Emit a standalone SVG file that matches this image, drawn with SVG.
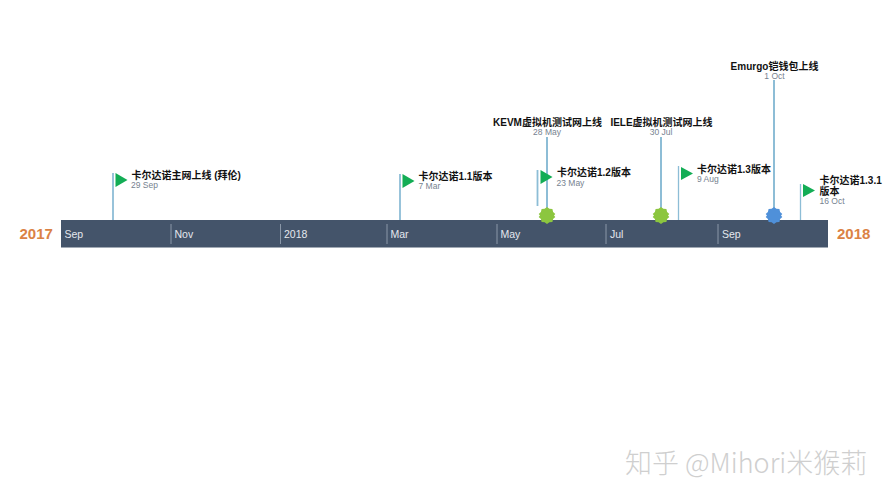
<svg xmlns="http://www.w3.org/2000/svg" width="889" height="500" viewBox="0 0 889 500">
<style>
text{font-family:"Liberation Sans","Noto Sans CJK SC",sans-serif}
.t{font-size:10px;font-weight:700;fill:#111}
.d{font-size:8.5px;fill:#76828f}
.m{font-size:10.5px;fill:#e4e8ee}
.y{font-size:15px;font-weight:700;fill:#db8245}
.l{stroke:#8dbdd6;fill:none}
.f{fill:#13ad55}
.s{stroke:#8a97a8;stroke-width:1}
</style>
<defs>
<polygon id="burst" points="0,-8.500 2.400,-6.800 5.400,-6.600 6.100,-3.400 8.300,-1.600 7,0 8.300,1.600 6.100,3.400 5.400,6.600 2.400,6.800 0,8.500 -2.400,6.800 -5.400,6.600 -6.100,3.400 -8.300,1.600 -7,0 -8.300,-1.600 -6.100,-3.400 -5.400,-6.600 -2.400,-6.800"/>
</defs>
<rect width="889" height="500" fill="#fff"/>
<g id="bar">
<rect x="61" y="220" width="767" height="27.5" fill="#44546a"/>
<line class="s" x1="171" y1="224" x2="171" y2="244"/>
<line class="s" x1="280.500" y1="224" x2="280.500" y2="244"/>
<line class="s" x1="387" y1="224" x2="387" y2="244"/>
<line class="s" x1="497" y1="224" x2="497" y2="244"/>
<line class="s" x1="606" y1="224" x2="606" y2="244"/>
<line class="s" x1="718" y1="224" x2="718" y2="244"/>
<text class="m" x="64.500" y="238">Sep</text>
<text class="m" x="174.500" y="238">Nov</text>
<text class="m" x="284" y="238">2018</text>
<text class="m" x="390.500" y="238">Mar</text>
<text class="m" x="500.500" y="238">May</text>
<text class="m" x="610" y="238">Jul</text>
<text class="m" x="722" y="238">Sep</text>
</g>
<g id="year-2017"><text class="y" x="19.500" y="239">2017</text></g>
<g id="year-2018"><text class="y" x="837" y="239">2018</text></g>
<g id="connectors">
<line class="l" stroke-width="1.800" x1="113" y1="173" x2="113" y2="220"/>
<line class="l" stroke-width="1.800" x1="400" y1="174" x2="400" y2="220"/>
<line class="l" stroke-width="1.800" x1="537.500" y1="170" x2="537.500" y2="206"/>
<line class="l" stroke-width="2" x1="547" y1="137" x2="547" y2="215"/>
<line class="l" stroke-width="2" x1="661" y1="137" x2="661" y2="215"/>
<line class="l" stroke-width="1.300" x1="678.500" y1="166" x2="678.500" y2="220"/>
<line class="l" stroke-width="2" x1="774" y1="80" x2="774" y2="215"/>
<line class="l" stroke-width="1.300" x1="800.500" y1="184" x2="800.500" y2="220"/>
</g>
<g id="n1"><polygon class="f" points="115.500,173 127.500,180 115.500,187"/><text class="t" x="131.500" y="178.500">卡尔达诺主网上线 (拜伦)</text><text class="d" x="131" y="188">29 Sep</text></g>
<g id="n2"><polygon class="f" points="402.500,174 414.500,181 402.500,188"/><text class="t" x="418.500" y="179.500">卡尔达诺1.1版本</text><text class="d" x="418.500" y="189">7 Mar</text></g>
<g id="n3"><polygon class="f" points="540.500,170 552.500,177 540.500,184"/><text class="t" x="557" y="175.500">卡尔达诺1.2版本</text><text class="d" x="556.500" y="185.500">23 May</text></g>
<g id="n4"><use href="#burst" x="547" y="215.500" fill="#8cc63f"/><text class="t" x="547.500" y="126" text-anchor="middle">KEVM虚拟机测试网上线</text><text class="d" x="547" y="135" text-anchor="middle">28 May</text></g>
<g id="n5"><use href="#burst" x="661" y="215.500" fill="#8cc63f"/><text class="t" x="661.500" y="126" text-anchor="middle">IELE虚拟机测试网上线</text><text class="d" x="661" y="135" text-anchor="middle">30 Jul</text></g>
<g id="n6"><polygon class="f" points="681,167 693,173.500 681,180"/><text class="t" x="697" y="172.500">卡尔达诺1.3版本</text><text class="d" x="697" y="182">9 Aug</text></g>
<g id="n7"><use href="#burst" x="774" y="215.500" fill="#4f90d9"/><text class="t" x="774.500" y="70" text-anchor="middle">Emurgo铠钱包上线</text><text class="d" x="774.500" y="79" text-anchor="middle">1 Oct</text></g>
<g id="n8"><polygon class="f" points="803,184 815,190.500 803,197"/><text class="t" x="819.500" y="184">卡尔达诺1.3.1</text><text class="t" x="819.500" y="194.500">版本</text><text class="d" x="819.500" y="203.500">16 Oct</text></g>
<g id="watermark"><text x="625" y="473" font-size="27" fill="#cfcfcf" style="font-family:'Noto Sans CJK SC','Liberation Sans',sans-serif;font-weight:300">知乎 @Mihori米猴莉</text></g>
</svg>
